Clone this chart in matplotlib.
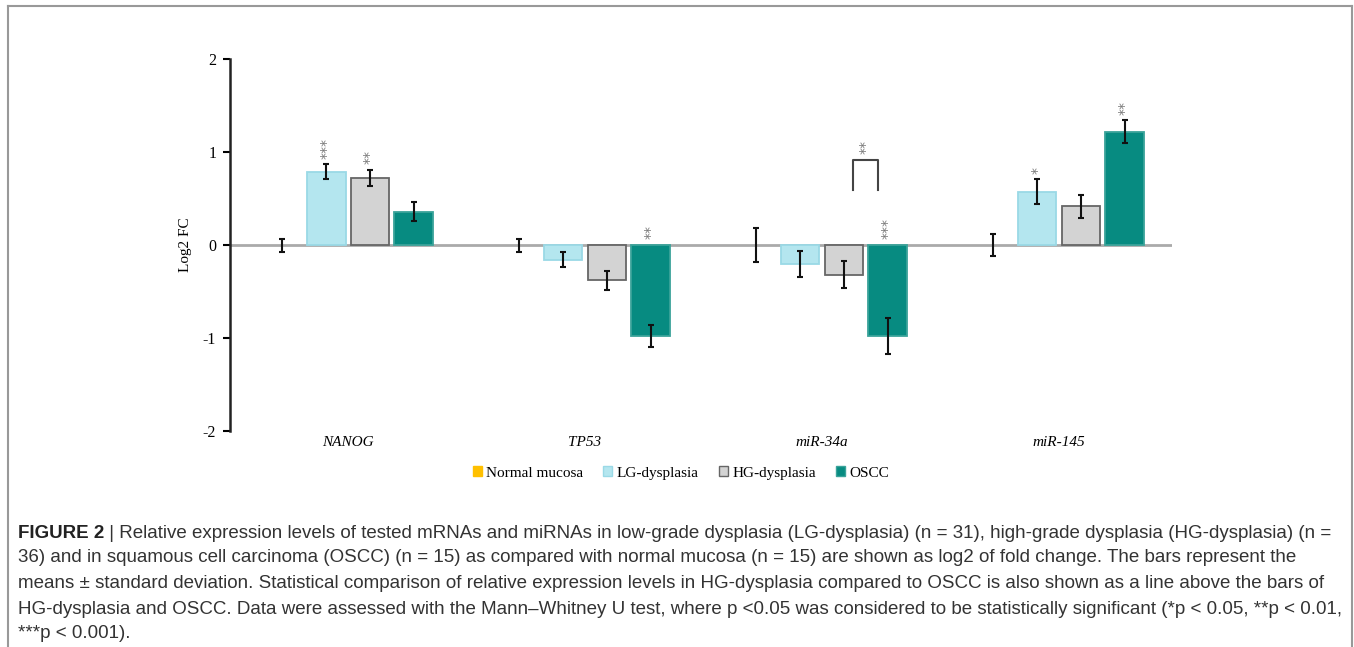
import numpy as np
import matplotlib
matplotlib.use("Agg")
import matplotlib.pyplot as plt
from matplotlib.patches import Patch
from matplotlib.lines import Line2D

plt.rcParams['axes.unicode_minus'] = False

genes = ["NANOG", "TP53", "miR-34a", "miR-145"]
groups = ["Normal mucosa", "LG-dysplasia", "HG-dysplasia", "OSCC"]

# log2 fold change (mean) and SD per group, one list per gene order
normal_mean = [0.0, 0.0, 0.0, 0.0]
normal_sd = [0.07, 0.07, 0.18, 0.12]
lg_mean = [0.79, -0.16, -0.20, 0.575]
lg_sd = [0.08, 0.08, 0.14, 0.13]
hg_mean = [0.72, -0.38, -0.32, 0.415]
hg_sd = [0.09, 0.10, 0.145, 0.12]
oscc_mean = [0.36, -0.98, -0.98, 1.22]
oscc_sd = [0.10, 0.12, 0.19, 0.12]

# significance vs normal mucosa
lg_stars = ["***", "", "", "*"]
hg_stars = ["**", "", "", ""]
oscc_stars = ["", "**", "***", "**"]
# HG vs OSCC bracket
bracket_gene = 2
bracket_stars = "**"
bracket_y = (0.59, 0.91)

colors = ["#ffc000", "#b4e6ef", "#d3d3d3", "#078b81"]
edges = ["#ffc000", "#9ad9e6", "#666666", "#3aa39a"]

means = [normal_mean, lg_mean, hg_mean, oscc_mean]
sds = [normal_sd, lg_sd, hg_sd, oscc_sd]
stars = [["", "", "", ""], lg_stars, hg_stars, oscc_stars]

serif = "Liberation Serif"

fig = plt.figure(figsize=(13.54, 6.47), dpi=100)
ax = fig.add_axes([0.1699, 0.3338, 0.6957, 0.575])

x = np.arange(len(genes))
slot = 0.1845
width = 0.163
offsets = (np.arange(4) - 1.5) * slot

ax.axhline(0, color="#aaaaaa", lw=2, zorder=1)

for i in range(4):
    xs = x + offsets[i]
    if i > 0:
        ax.bar(xs, means[i], width=width, color=colors[i], edgecolor=edges[i],
               linewidth=1.3, zorder=2)
    ax.errorbar(xs, means[i], yerr=sds[i], fmt="none", ecolor="#111111",
                elinewidth=1.5, capsize=2.5, capthick=1.5, zorder=3)
    for j, s in enumerate(stars[i]):
        if not s:
            continue
        top = max(means[i][j] + sds[i][j], 0)
        ax.text(xs[j], top + 0.06, s, rotation=90, ha="center", va="bottom",
                fontsize=10, color="#777777", family="DejaVu Sans")

# bracket between HG and OSCC
bx0 = bracket_gene + offsets[2] + 0.04
bx1 = bracket_gene + offsets[3] - 0.04
ax.plot([bx0, bx0, bx1, bx1], [bracket_y[0], bracket_y[1], bracket_y[1], bracket_y[0]],
        color="#444444", lw=1.5, zorder=3)
ax.text((bx0 + bx1) / 2, bracket_y[1] + 0.07, bracket_stars, rotation=90,
        ha="center", va="bottom", fontsize=10, color="#777777", family="DejaVu Sans")

ax.set_xlim(-0.498, 3.477)
ax.set_ylim(-2, 2)
ax.set_yticks([-2, -1, 0, 1, 2])
ax.set_yticklabels(["-2", "-1", "0", "1", "2"], fontsize=11.5, family=serif)
ax.tick_params(axis="y", length=5, width=1.5, pad=5)
ax.set_xticks([])
for side in ["top", "right", "bottom"]:
    ax.spines[side].set_visible(False)
ax.spines["left"].set_linewidth(1.8)
ax.spines["left"].set_color("#222222")
ax.set_ylabel("Log2 FC", fontsize=11, family=serif, labelpad=8)

for j, g in enumerate(genes):
    ax.text(x[j], -2.12, g, ha="center", va="center", fontsize=11,
            family=serif, style="italic")

handles = [Patch(facecolor=colors[i], edgecolor=edges[i], linewidth=1) for i in range(4)]
fig.legend(handles, groups, loc="center", bbox_to_anchor=(0.503, 1 - 473 / 647),
           ncol=4, frameon=False, prop={"family": serif, "size": 11},
           handlelength=0.6, handleheight=0.6, handletextpad=0.3, columnspacing=1.3)

# figure frame
frame_kw = dict(color="#999999", lw=1.5, transform=fig.transFigure)
fig.add_artist(Line2D([8 / 1354, 8 / 1354], [0, 1 - 6 / 647], **frame_kw))
fig.add_artist(Line2D([8 / 1354, 1352 / 1354], [1 - 6 / 647, 1 - 6 / 647], **frame_kw))
fig.add_artist(Line2D([1352 / 1354, 1352 / 1354], [0, 1 - 6 / 647], **frame_kw))

caption = [
    " | Relative expression levels of tested mRNAs and miRNAs in low-grade dysplasia (LG-dysplasia) (n = 31), high-grade dysplasia (HG-dysplasia) (n =",
    "36) and in squamous cell carcinoma (OSCC) (n = 15) as compared with normal mucosa (n = 15) are shown as log2 of fold change. The bars represent the",
    "means \u00b1 standard deviation. Statistical comparison of relative expression levels in HG-dysplasia compared to OSCC is also shown as a line above the bars of",
    "HG-dysplasia and OSCC. Data were assessed with the Mann\u2013Whitney U test, where p <0.05 was considered to be statistically significant (*p < 0.05, **p < 0.01,",
    "***p < 0.001).",
]
cap_font = "Liberation Sans"
cap_size = 13.5
cap_x = 18 / 1354
line_y = [533, 558, 584, 609, 634]

renderer = fig.canvas.get_renderer()
head = fig.text(cap_x, 1 - line_y[0] / 647, "FIGURE 2", fontsize=cap_size,
                family=cap_font, weight="bold", va="center", color="#222222")
bb = head.get_window_extent(renderer)
fig.text(bb.x1 / fig.bbox.width, 1 - line_y[0] / 647, caption[0], fontsize=cap_size,
         family=cap_font, va="center", color="#333333")
for k in range(1, 5):
    fig.text(cap_x, 1 - line_y[k] / 647, caption[k], fontsize=cap_size,
             family=cap_font, va="center", color="#333333")

fig.savefig("out.png", dpi=100)
